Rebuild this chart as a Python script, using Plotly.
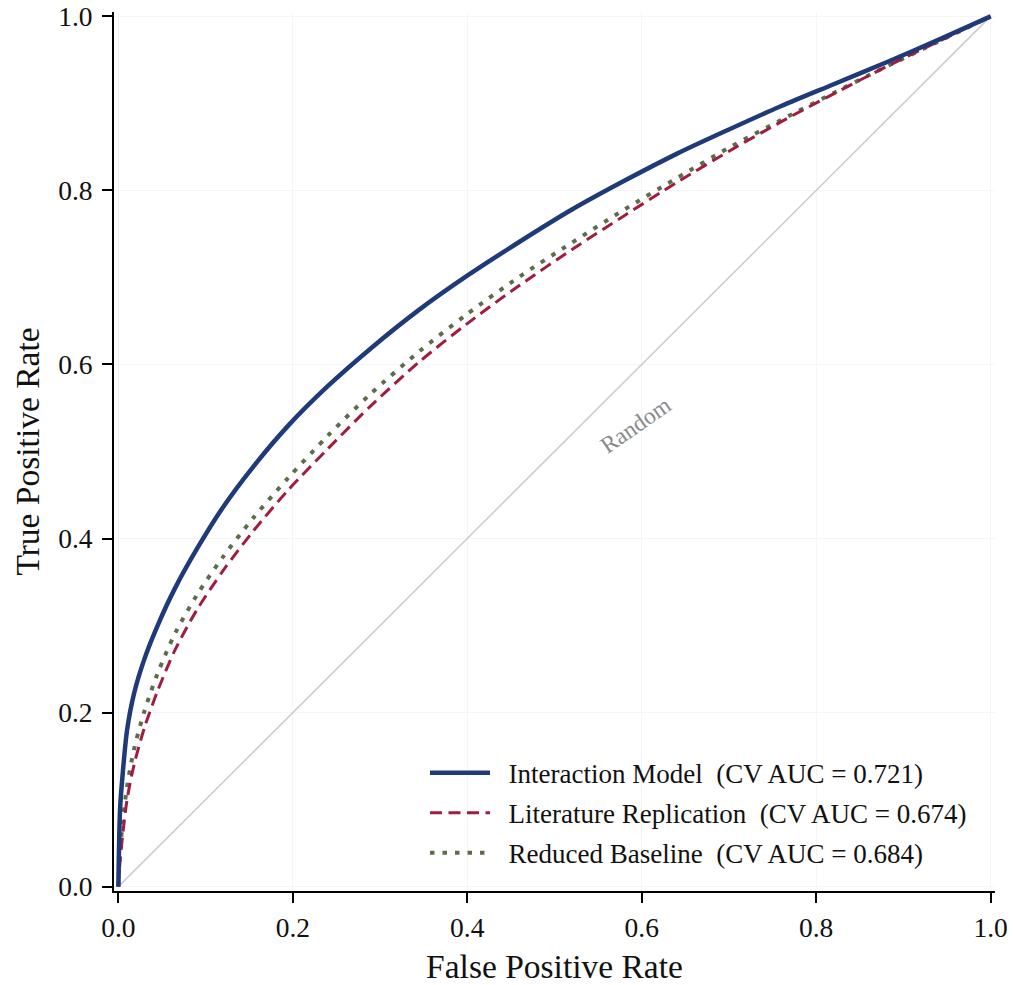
import plotly.graph_objects as go

# ROC curve points (false positive rate, true positive rate)
fpr_grid = [0.0, 0.002, 0.005, 0.010, 0.018, 0.030, 0.045, 0.065, 0.090, 0.120, 0.155,
            0.195, 0.240, 0.290, 0.345, 0.400, 0.460, 0.520, 0.580, 0.640, 0.700,
            0.760, 0.820, 0.880, 0.940, 1.0]

interaction_tpr = [0.0, 0.090, 0.130, 0.180, 0.222, 0.262, 0.300, 0.343, 0.388, 0.436, 0.483,
                   0.530, 0.575, 0.619, 0.663, 0.702, 0.741, 0.778, 0.811, 0.842, 0.870,
                   0.897, 0.922, 0.947, 0.973, 1.0]

literature_tpr = [0.0, 0.030, 0.060, 0.100, 0.140, 0.183, 0.225, 0.272, 0.318, 0.363, 0.409,
                  0.456, 0.503, 0.553, 0.603, 0.647, 0.691, 0.732, 0.771, 0.809, 0.845,
                  0.879, 0.911, 0.942, 0.971, 1.0]

reduced_tpr = [0.0, 0.040, 0.075, 0.115, 0.158, 0.202, 0.245, 0.291, 0.335, 0.379, 0.424,
               0.470, 0.518, 0.567, 0.615, 0.658, 0.701, 0.740, 0.778, 0.814, 0.849,
               0.881, 0.912, 0.942, 0.971, 1.0]

model_names = ["Interaction Model", "Literature Replication", "Reduced Baseline"]
cv_auc = [0.721, 0.674, 0.684]

tick_vals = [0.0, 0.2, 0.4, 0.6, 0.8, 1.0]
diag = [0.0, 1.0]

FONT = "Liberation Serif, Times New Roman, serif"
NB = "\u00a0"
PAD = NB * 2

fig = go.Figure()

# chance diagonal
fig.add_trace(go.Scatter(x=diag, y=diag, mode="lines",
                         line=dict(color="#cccccc", width=1.5),
                         showlegend=False, hoverinfo="skip"))

series = [
    (reduced_tpr, 2, dict(color="#5d6d48", width=4, dash="4.5px,8px")),
    (literature_tpr, 1, dict(color="#a11d3f", width=3, dash="12px,6.5px")),
    (interaction_tpr, 0, dict(color="#1f3a78", width=4.5)),
]
for tpr, i, line in series:
    fig.add_trace(go.Scatter(
        x=fpr_grid, y=tpr, mode="lines",
        line=dict(shape="spline", smoothing=0.8, **line),
        name=f"{PAD}{model_names[i]}{NB} (CV AUC = {cv_auc[i]:.3f})",
        legendrank=i + 1,
        legendgroup=str(i),
    ))

fig.add_annotation(x=0.593, y=0.530, xref="x", yref="y", text="Random",
                   showarrow=False, textangle=-35,
                   font=dict(family=FONT, size=23.5, color="#8a8a8a"))

axis_common = dict(
    range=[-0.005, 1.005], tickvals=tick_vals, tickformat=".1f",
    showline=True, linecolor="black", linewidth=2,
    ticks="outside", ticklen=10, tickwidth=1.5, tickcolor="black",
    automargin=False,
    showgrid=True, gridcolor="#f5f5f5", gridwidth=1, zeroline=False,
    tickfont=dict(family=FONT, size=27.5, color="#111111"),
)

fig.update_layout(
    width=1013, height=985,
    margin=dict(l=114, r=18, t=12, b=94),
    paper_bgcolor="white", plot_bgcolor="white",
    font=dict(family=FONT, color="#111111"),
    xaxis=dict(title=dict(text="False Positive Rate", font=dict(family=FONT, size=33.5), standoff=19),
               ticklabelstandoff=1, **axis_common),
    yaxis=dict(title=dict(text="True Positive Rate", font=dict(family=FONT, size=33.5), standoff=8),
               ticklabelstandoff=4, **axis_common),
    legend=dict(x=0.353, y=0.162, xanchor="left", yanchor="top",
                font=dict(family=FONT, size=27, color="#111111"),
                bgcolor="rgba(255,255,255,0)", itemwidth=60, tracegroupgap=2,
                traceorder="grouped"),
)

fig.write_html("out.html")
